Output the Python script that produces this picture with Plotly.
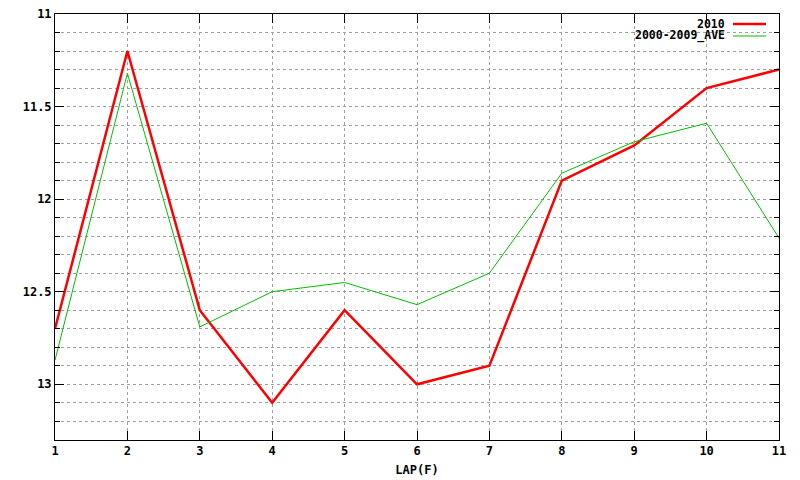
import plotly.graph_objects as go

laps = [1, 2, 3, 4, 5, 6, 7, 8, 9, 10, 11]
y2010 = [12.70, 11.20, 12.60, 13.10, 12.60, 13.00, 12.90, 11.90, 11.71, 11.40, 11.30]
y_ave = [12.87, 11.32, 12.69, 12.50, 12.45, 12.57, 12.40, 11.86, 11.69, 11.59, 12.21]
names = ["2010", "2000-2009_AVE"]

FONT = "DejaVu Sans Mono"

fig = go.Figure()
fig.add_trace(go.Scatter(x=laps, y=y2010, mode="lines", name=names[0],
                         line=dict(color="#ff0000", width=2.5)))
fig.add_trace(go.Scatter(x=laps, y=y_ave, mode="lines", name=names[1],
                         line=dict(color="#00c000", width=1)))

axis_common = dict(
    showline=True, linecolor="black", linewidth=1, mirror="ticks",
    ticks="inside", tickcolor="black", ticklen=9, tickwidth=1,
    showgrid=True, gridcolor="#a0a0a0", griddash="dot", gridwidth=1,
    zeroline=False, automargin=False, ticklabeloverflow="allow",
    tickfont=dict(family=FONT, size=12, color="black", weight="bold"),
)

fig.update_xaxes(range=[1, 11], dtick=1, tick0=1, title=dict(
    text="LAP(F)", font=dict(family=FONT, size=12, color="black", weight="bold"), standoff=8),
    **axis_common)
fig.update_yaxes(range=[13.301, 11], dtick=0.5, tick0=11,
                 minor=dict(dtick=0.1, tick0=11, ticks="inside", ticklen=5, tickcolor="black",
                            showgrid=True, gridcolor="#a0a0a0", griddash="dot", gridwidth=1),
                 **axis_common)

# legend (gnuplot style: text left of sample)
for i, (nm, col, w) in enumerate([(names[0], "#ff0000", 2.5), (names[1], "#00c000", 1)]):
    yp = 1 - (10 + 12 * i) / 426
    fig.add_annotation(xref="paper", yref="paper", x=(726 - 55) / 724, y=yp,
                       text=nm, showarrow=False, xanchor="right", yanchor="middle",
                       borderpad=0,
                       font=dict(family=FONT, size=11.5, color="black", weight="bold"))
    fig.add_shape(type="line", xref="paper", yref="paper",
                  x0=(733 - 55) / 724, x1=(766 - 55) / 724, y0=yp, y1=yp,
                  line=dict(color=col, width=w))

# page body has an 8px margin, so margins are offset accordingly
fig.update_layout(
    width=800, height=480, showlegend=False,
    margin=dict(l=47, r=29, t=6, b=48),
    plot_bgcolor="white", paper_bgcolor="white",
)
fig.write_html("out.html")
